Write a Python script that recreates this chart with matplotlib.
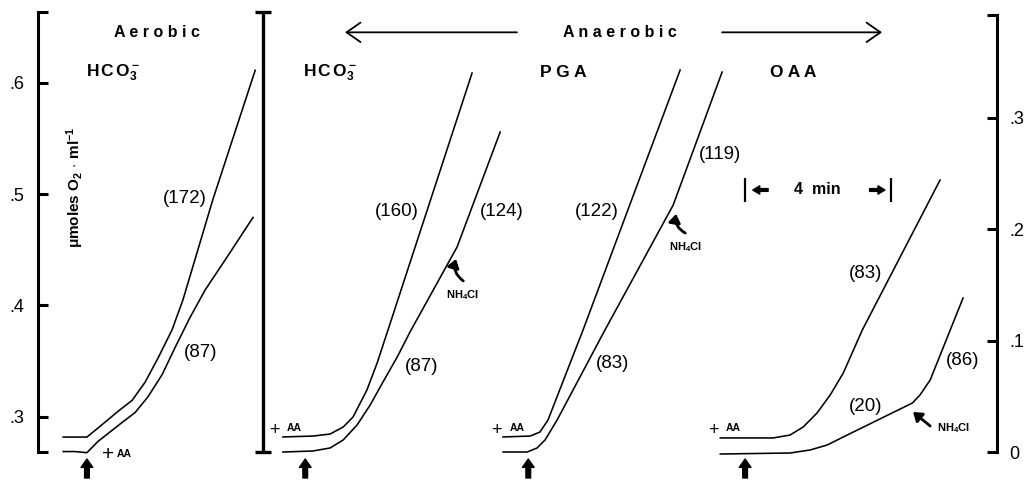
import matplotlib.pyplot as plt

plt.rcParams["font.family"] = ["Liberation Sans", "DejaVu Sans"]
plt.rcParams["mathtext.fontset"] = "custom"
plt.rcParams["mathtext.rm"] = "Liberation Sans"
plt.rcParams["mathtext.bf"] = "Liberation Sans:bold"
plt.rcParams["mathtext.it"] = "Liberation Sans:italic"

# traces: time (min) and umoles O2 / ml
# aerobic panel, left scale
aer_hi_t = [0.69, 1.34, 1.64, 2.19, 2.58, 2.93, 3.29, 3.67, 3.97, 4.38, 4.79, 5.37, 5.95]
aer_hi_v = [0.282, 0.282, 0.290, 0.305, 0.315, 0.331, 0.353, 0.378, 0.405, 0.450, 0.495, 0.553, 0.611]
aer_lo_t = [0.69, 1.01, 1.34, 1.64, 2.30, 2.66, 3.01, 3.40, 3.75, 4.16, 4.58, 5.21, 5.89]
aer_lo_v = [0.269, 0.269, 0.268, 0.278, 0.295, 0.304, 0.318, 0.338, 0.362, 0.389, 0.414, 0.445, 0.479]

# anaerobic panels, right scale
hco_hi_t = [6.71, 7.53, 8.00, 8.36, 8.63, 9.01, 9.29, 9.56, 11.89]
hco_hi_v = [0.0135, 0.0143, 0.0161, 0.0224, 0.0314, 0.0556, 0.0798, 0.1067, 0.3399]
hco_lo_t = [6.71, 7.53, 8.00, 8.36, 8.74, 9.10, 9.45, 9.84, 10.19, 11.48, 12.66]
hco_lo_v = [0.0, 0.0009, 0.0036, 0.0108, 0.0242, 0.0422, 0.0628, 0.0852, 0.1076, 0.1839, 0.2870]

pga_hi_t = [12.74, 13.48, 13.75, 13.97, 14.93, 17.59]
pga_hi_v = [0.0135, 0.0143, 0.0179, 0.0287, 0.1094, 0.3426]
pga_lo_t = [12.74, 13.40, 13.67, 13.89, 14.22, 15.53, 17.40, 18.74]
pga_lo_v = [0.0, 0.0, 0.0036, 0.0108, 0.0287, 0.1094, 0.2215, 0.3408]

oaa_hi_t = [18.69, 20.14, 20.60, 20.96, 21.34, 21.70, 22.06, 22.58, 24.71]
oaa_hi_v = [0.0126, 0.0126, 0.0152, 0.0224, 0.0350, 0.0511, 0.0709, 0.1094, 0.2439]
oaa_lo_t = [18.69, 20.60, 21.15, 21.62, 22.06, 23.95, 24.16, 24.44, 25.34]
oaa_lo_v = [-0.0018, -0.0009, 0.0018, 0.0063, 0.0135, 0.0439, 0.0511, 0.0646, 0.1381]

# rates (label, time, level on left scale)
rate_labels = ["(172)", "(87)", "(160)", "(124)", "(87)", "(122)", "(83)", "(119)", "(83)", "(20)", "(86)"]
rate_t = [4.03, 4.45, 9.84, 12.71, 10.52, 15.32, 15.75, 18.68, 22.66, 22.66, 25.32]
rate_v = [0.496, 0.358, 0.484, 0.484, 0.345, 0.484, 0.348, 0.535, 0.429, 0.309, 0.351]

panel_titles = [r"$\mathbf{H\,C\,O_3^-}$", r"$\mathbf{H\,C\,O_3^-}$", "P G A", "O A A"]
panel_title_t = [2.05, 8.0, 14.38, 20.68]

aa_t = [1.34, 7.32, 13.43, 19.37]  # addition of AA (arrows)

left_ticks = [0.3, 0.4, 0.5, 0.6]
left_labels = [".3", ".4", ".5", ".6"]
right_ticks = [0, 0.1, 0.2, 0.3]
right_labels = ["0", ".1", ".2", ".3"]

offset = 0.2686  # left-scale value of right-scale zero
ylo, yhi = 0.2408, 0.674

fig = plt.figure(figsize=(10.25, 4.83), dpi=100)
ax = fig.add_axes([38 / 1025, 0, 959 / 1025, 1])
ax.set_xlim(0, 26.27)
ax.set_ylim(ylo, yhi)
ax2 = ax.twinx()
ax2.set_ylim(ylo - offset, yhi - offset)

for a in (ax, ax2):
    for s in ("top", "bottom"):
        a.spines[s].set_visible(False)
    a.set_xticks([])
ax.spines["right"].set_visible(False)
ax2.spines["left"].set_visible(False)

# left axis with end caps
ltop = 0.6632
ax.spines["left"].set_bounds(offset, ltop)
ax.spines["left"].set_linewidth(2.2)
ax.set_yticks([offset] + left_ticks + [ltop])
ax.set_yticklabels([""] + left_labels + [""])
ax.tick_params(axis="y", direction="in", length=7, width=2.2, pad=10, labelsize=13)

# right axis with end caps
rtop = 0.392
ax2.spines["right"].set_bounds(0, rtop)
ax2.spines["right"].set_linewidth(2.2)
ax2.set_yticks(right_ticks + [rtop])
ax2.set_yticklabels(right_labels + [""])
ax2.tick_params(axis="y", direction="in", length=7, width=2.2, pad=9, labelsize=13)

lw = 1.15
ax.plot(aer_hi_t, aer_hi_v, color="black", lw=lw)
ax.plot(aer_lo_t, aer_lo_v, color="black", lw=lw)
for tt, vv in [(hco_hi_t, hco_hi_v), (hco_lo_t, hco_lo_v), (pga_hi_t, pga_hi_v),
               (pga_lo_t, pga_lo_v), (oaa_hi_t, oaa_hi_v), (oaa_lo_t, oaa_lo_v)]:
    ax2.plot(tt, vv, color="black", lw=lw)

# scale bar between aerobic and anaerobic
ax.vlines(6.164, offset, ltop, color="black", lw=2.4)
ax.hlines([offset, ltop], 6.164 - 0.22, 6.164 + 0.22, color="black", lw=2.4)

for lab, tt, vv in zip(rate_labels, rate_t, rate_v):
    ax.text(tt, vv, lab, ha="center", va="center", fontsize=13.5)

for lab, tt in zip(panel_titles, panel_title_t):
    ax.text(tt, 0.609, lab, ha="center", va="center", fontsize=12.5, fontweight="bold")

ax.text(3.26, 0.645, "A e r o b i c", ha="center", va="center", fontsize=11.5, fontweight="bold")
ax.text(15.95, 0.645, "A n a e r o b i c", ha="center", va="center", fontsize=11.5, fontweight="bold")
ax.text(1.01, 0.506, r"$\mathbf{\mu}$moles O$_\mathbf{2}$$\,\cdot\,$ml$^\mathbf{-1}$",
        rotation=90, ha="center", va="center", fontsize=11, fontweight="bold")

big = dict(arrowstyle="->,head_length=0.5,head_width=0.35", lw=1.3, color="black",
           mutation_scale=20, shrinkA=0, shrinkB=0)
ax.annotate("", xy=(8.41, 0.645), xytext=(13.12, 0.645), arrowprops=big)
ax.annotate("", xy=(23.12, 0.645), xytext=(18.74, 0.645), arrowprops=big)

# AA additions
up = dict(arrowstyle="simple,head_length=0.5,head_width=0.7,tail_width=0.28",
          color="black", mutation_scale=12, shrinkA=0, shrinkB=0)
for tt in aa_t:
    ax.annotate("", xy=(tt, 0.2623), xytext=(tt, 0.2453), arrowprops=up)
ax.text(1.92, 0.2668, "+", ha="center", va="center", fontsize=15)
ax.text(2.36, 0.2672, "AA", ha="center", va="center", fontsize=7.5, fontweight="bold")
for pt, at in [(6.47, 7.02), (12.55, 13.13), (18.49, 19.04)]:
    ax.text(pt, 0.2875, "+", ha="center", va="center", fontsize=13)
    ax.text(at, 0.2898, "AA", ha="center", va="center", fontsize=7.5, fontweight="bold")

# NH4Cl additions
nh_t = [11.64, 17.73, 25.07]
nh_v = [0.409, 0.452, 0.290]
for tt, vv in zip(nh_t, nh_v):
    ax.text(tt, vv, r"NH$_\mathbf{4}$Cl", ha="center", va="center", fontsize=8, fontweight="bold")
curl = dict(arrowstyle="-|>,head_length=0.5,head_width=0.35", lw=2.0, color="black",
            mutation_scale=10, shrinkA=0, shrinkB=0, connectionstyle="arc3,rad=-0.35")
ax.annotate("", xy=(11.45, 0.4417), xytext=(11.65, 0.4220), arrowprops=curl)
ax.annotate("", xy=(17.48, 0.4821), xytext=(17.73, 0.4650), arrowprops=curl)
curl2 = dict(curl, connectionstyle="arc3,rad=0.0")
ax.annotate("", xy=(23.97, 0.3045), xytext=(24.44, 0.2919), arrowprops=curl2)

# 4 min bar
ax.vlines([19.37, 23.37], 0.4928, 0.5143, color="black", lw=1.6)
ax.text(21.34, 0.5036, "4  min", ha="center", va="center", fontsize=11.5, fontweight="bold")
small = dict(arrowstyle="simple,head_length=0.5,head_width=0.6,tail_width=0.2",
             color="black", mutation_scale=10, shrinkA=0, shrinkB=0)
ax.annotate("", xy=(19.58, 0.5036), xytext=(20.0, 0.5036), arrowprops=small)
ax.annotate("", xy=(23.2, 0.5036), xytext=(22.78, 0.5036), arrowprops=small)

fig.savefig("out.png", dpi=100)
